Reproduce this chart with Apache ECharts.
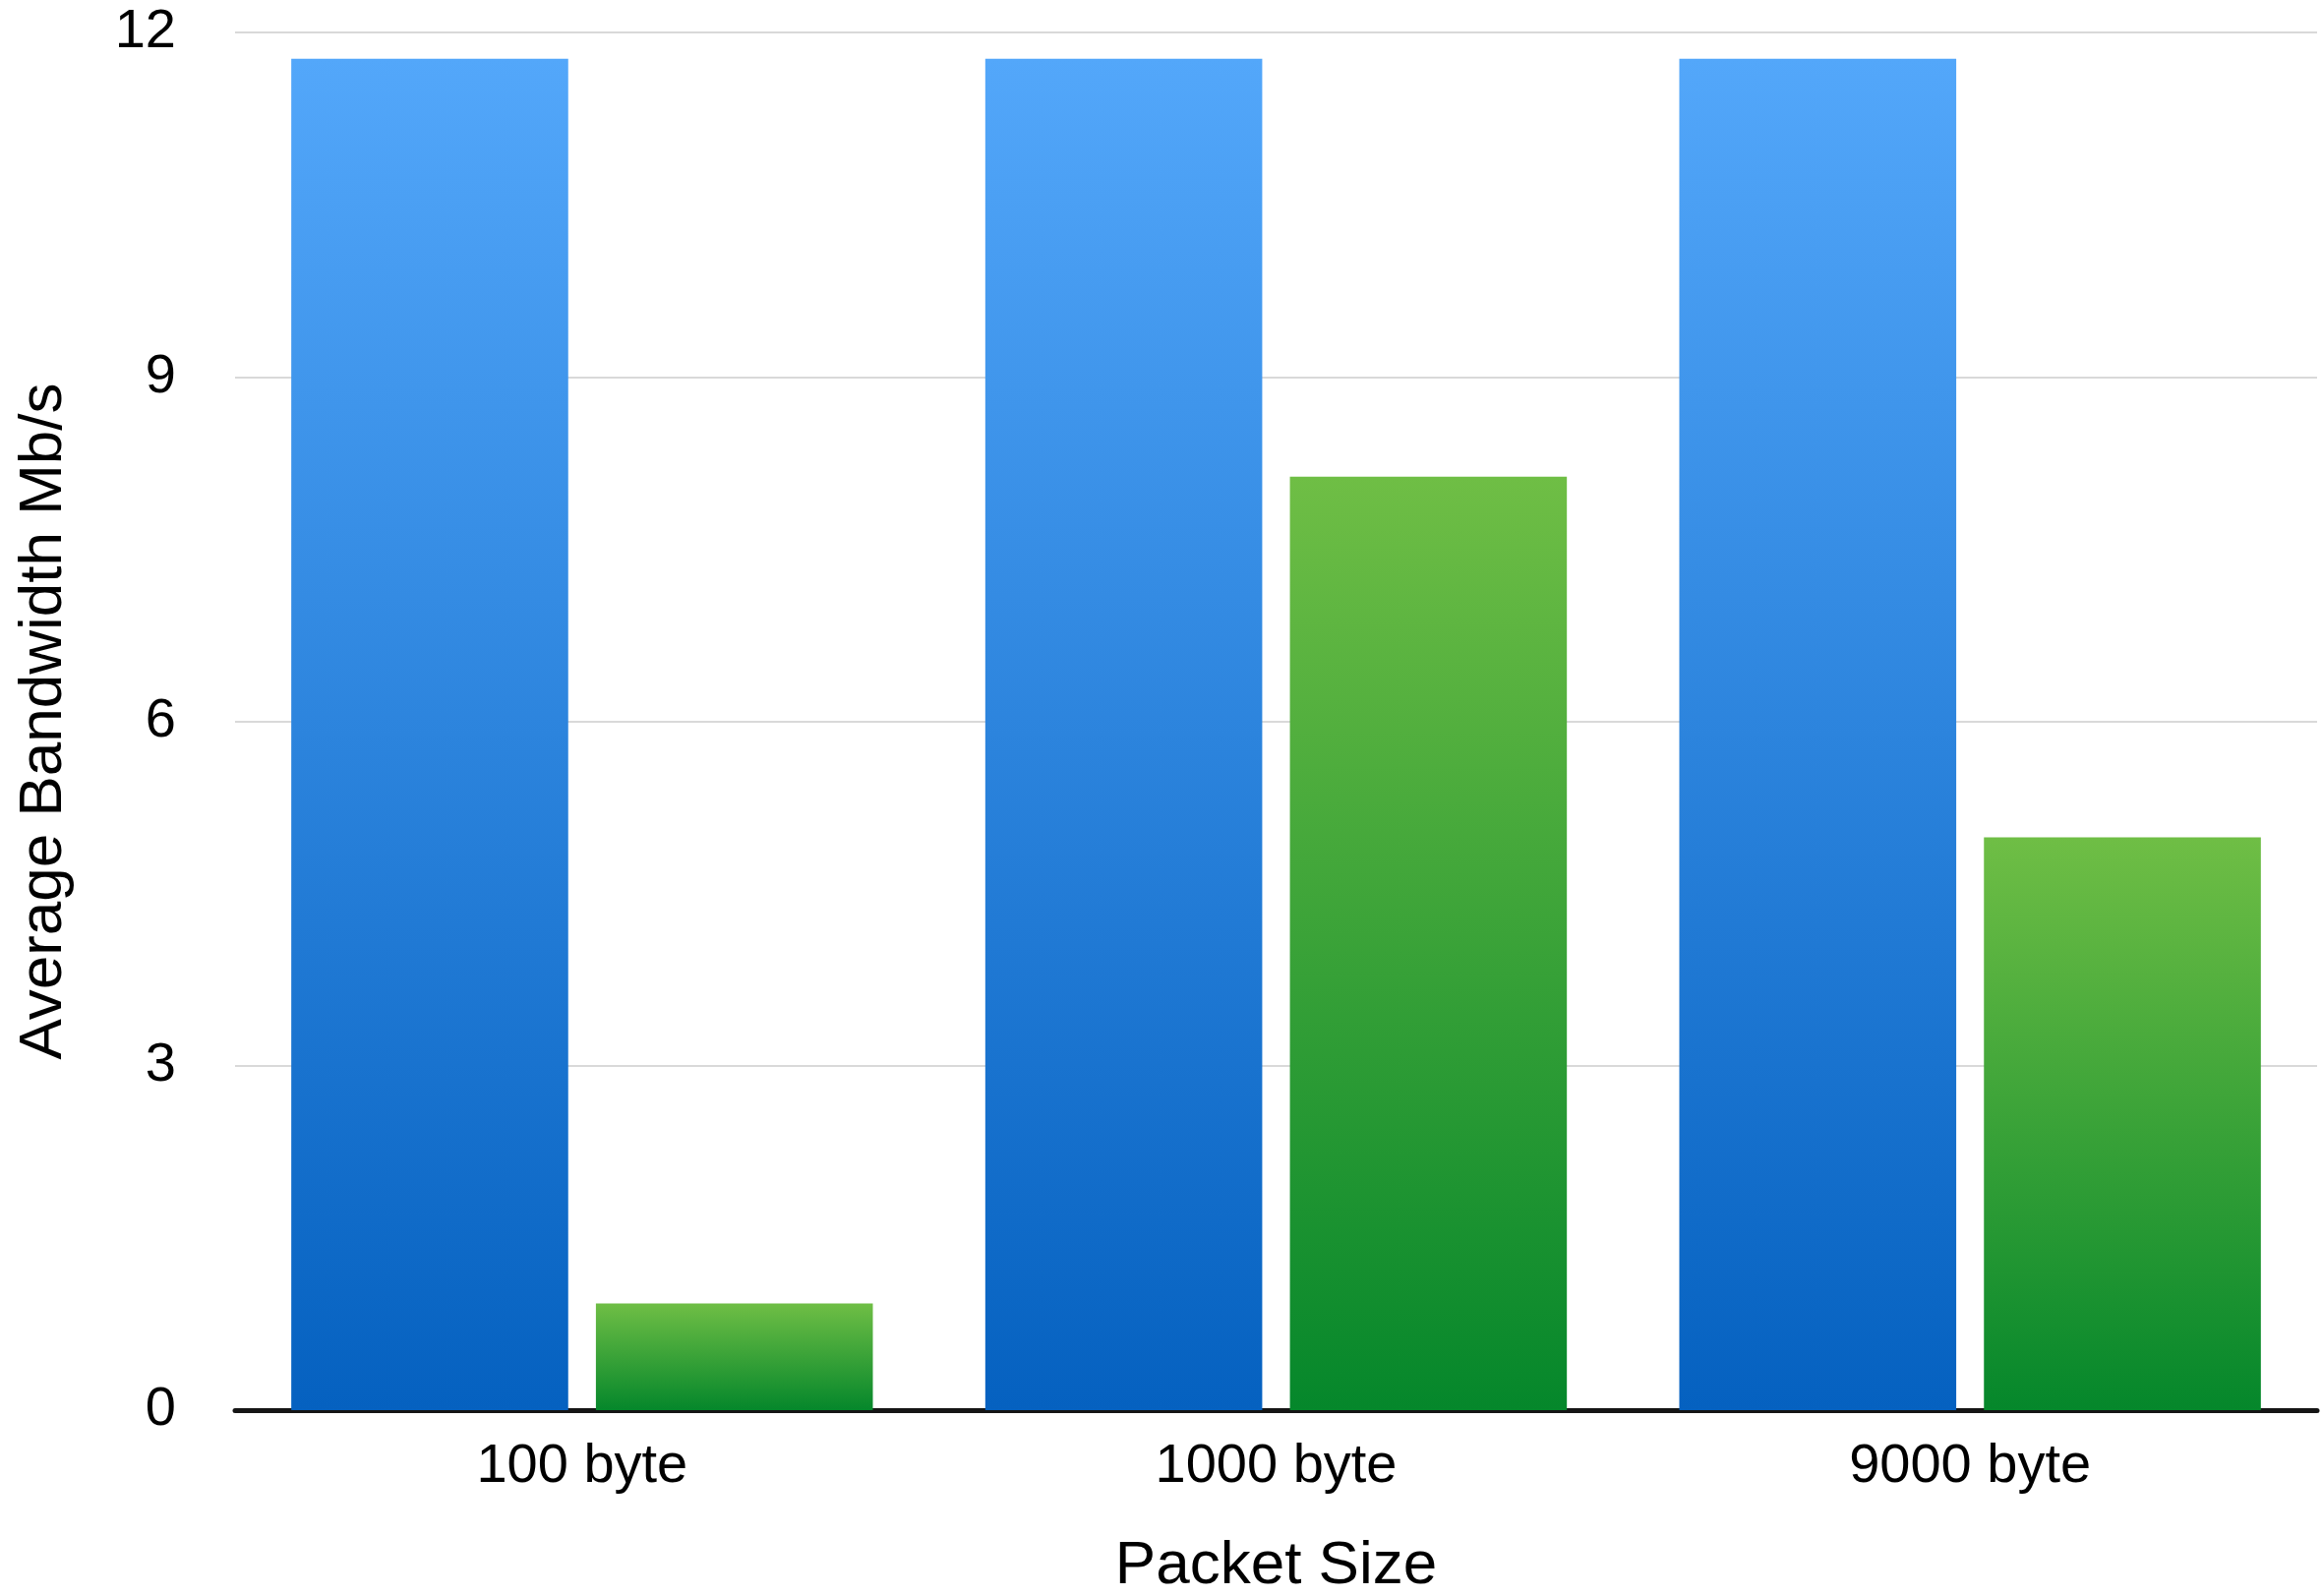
<!DOCTYPE html>
<html>
<head>
<meta charset="utf-8">
<script src="https://cdn.jsdelivr.net/npm/echarts@6/dist/echarts.min.js"></script>
<style>
html,body{margin:0;padding:0;background:#fff;}
#chart{width:2361px;height:1623px;}
</style>
</head>
<body>
<div id="chart"></div>
<script>
const categories = ['100 byte', '1000 byte', '9000 byte'];
const blueValues = [11.77, 11.77, 11.77];
const greenValues = [0.93, 8.13, 4.99];
const yTicks = [0, 3, 6, 9, 12];

const FONT = '"Liberation Sans", Arial, Helvetica, sans-serif';
const chart = echarts.init(document.getElementById('chart'));
function grad(top, bottom) {
  return new echarts.graphic.LinearGradient(0, 0, 0, 1, [
    {offset: 0, color: top}, {offset: 1, color: bottom}
  ]);
}
chart.setOption({
  animation: false,
  backgroundColor: '#ffffff',
  grid: {left: 239, right: 5, top: 33, bottom: 189, containLabel: false, outerBoundsMode: 'none'},
  xAxis: {
    type: 'category',
    data: categories,
    name: 'Packet Size',
    nameLocation: 'middle',
    nameGap: 128,
    nameTextStyle: {color: '#000', fontSize: 62, fontFamily: FONT},
    axisLine: {show: true, lineStyle: {color: '#151515', width: 5}},
    axisTick: {show: false},
    axisLabel: {color: '#000', fontSize: 56, fontFamily: FONT, margin: 30}
  },
  yAxis: {
    type: 'value',
    min: yTicks[0],
    max: yTicks[yTicks.length - 1],
    interval: yTicks[1] - yTicks[0],
    name: 'Average Bandwidth Mb/s',
    nameLocation: 'middle',
    nameGap: 163,
    nameTextStyle: {color: '#000', fontSize: 62, fontFamily: FONT},
    axisLine: {show: false},
    axisTick: {show: false},
    axisLabel: {color: '#000', fontSize: 56, fontFamily: FONT, margin: 60},
    splitLine: {show: true, lineStyle: {color: '#d9d9d9', width: 2}}
  },
  series: [
    {
      type: 'bar',
      data: blueValues,
      barCategoryGap: '16.2%',
      barGap: '10%',
      itemStyle: {color: grad('#53a7fa', '#0561c0')}
    },
    {
      type: 'bar',
      data: greenValues,
      barCategoryGap: '16.2%',
      barGap: '10%',
      itemStyle: {color: grad('#6fbe45', '#05872b')}
    }
  ]
});
</script>
</body>
</html>
